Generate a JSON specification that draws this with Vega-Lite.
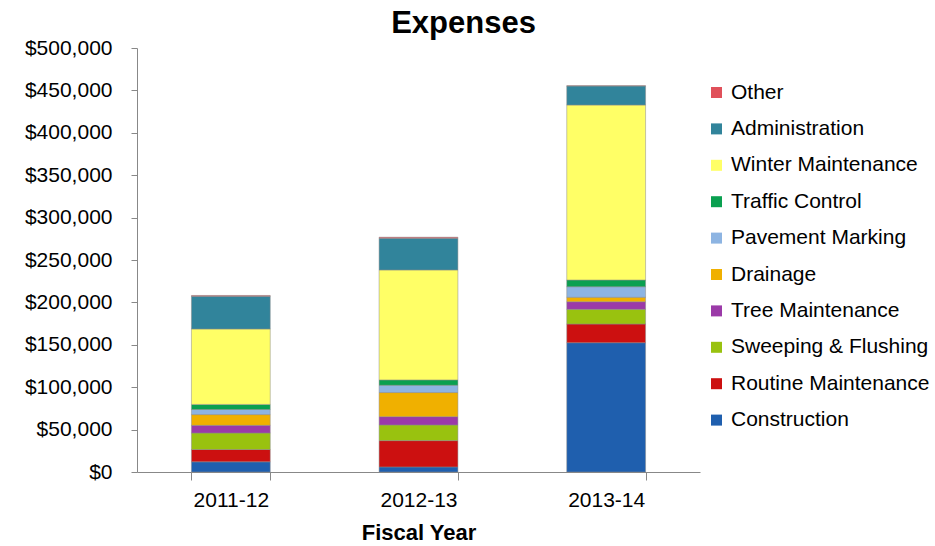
{
  "$schema": "https://vega.github.io/schema/vega-lite/v6.json",
  "autosize": {"type": "none"},
  "width": 563,
  "height": 424,
  "padding": {"left": 137, "top": 48, "right": 235, "bottom": 74},
  "background": "white",
  "config": {
    "font": "Liberation Sans",
    "view": {"stroke": null}
  },
  "title": {
    "text": "Expenses",
    "fontSize": 31,
    "fontWeight": "bold",
    "color": "black",
    "anchor": "middle",
    "dx": 45,
    "offset": 3,
    "dy": 6
  },
  "data": {
    "values": [
      {"year": "2011-12", "cat": "Construction", "rank": 1, "amount": 12000},
      {"year": "2011-12", "cat": "Routine Maintenance", "rank": 2, "amount": 14500},
      {"year": "2011-12", "cat": "Sweeping & Flushing", "rank": 3, "amount": 19500},
      {"year": "2011-12", "cat": "Tree Maintenance", "rank": 4, "amount": 9000},
      {"year": "2011-12", "cat": "Drainage", "rank": 5, "amount": 12700},
      {"year": "2011-12", "cat": "Pavement Marking", "rank": 6, "amount": 6000},
      {"year": "2011-12", "cat": "Traffic Control", "rank": 7, "amount": 6000},
      {"year": "2011-12", "cat": "Winter Maintenance", "rank": 8, "amount": 89000},
      {"year": "2011-12", "cat": "Administration", "rank": 9, "amount": 38500},
      {"year": "2011-12", "cat": "Other", "rank": 10, "amount": 1000},
      {"year": "2012-13", "cat": "Construction", "rank": 1, "amount": 6000},
      {"year": "2012-13", "cat": "Routine Maintenance", "rank": 2, "amount": 31000},
      {"year": "2012-13", "cat": "Sweeping & Flushing", "rank": 3, "amount": 18500},
      {"year": "2012-13", "cat": "Tree Maintenance", "rank": 4, "amount": 9800},
      {"year": "2012-13", "cat": "Drainage", "rank": 5, "amount": 28400},
      {"year": "2012-13", "cat": "Pavement Marking", "rank": 6, "amount": 8600},
      {"year": "2012-13", "cat": "Traffic Control", "rank": 7, "amount": 6300},
      {"year": "2012-13", "cat": "Winter Maintenance", "rank": 8, "amount": 129700},
      {"year": "2012-13", "cat": "Administration", "rank": 9, "amount": 37400},
      {"year": "2012-13", "cat": "Other", "rank": 10, "amount": 1200},
      {"year": "2013-14", "cat": "Construction", "rank": 1, "amount": 152500},
      {"year": "2013-14", "cat": "Routine Maintenance", "rank": 2, "amount": 22000},
      {"year": "2013-14", "cat": "Sweeping & Flushing", "rank": 3, "amount": 17300},
      {"year": "2013-14", "cat": "Tree Maintenance", "rank": 4, "amount": 9000},
      {"year": "2013-14", "cat": "Drainage", "rank": 5, "amount": 5200},
      {"year": "2013-14", "cat": "Pavement Marking", "rank": 6, "amount": 12500},
      {"year": "2013-14", "cat": "Traffic Control", "rank": 7, "amount": 7900},
      {"year": "2013-14", "cat": "Winter Maintenance", "rank": 8, "amount": 206400},
      {"year": "2013-14", "cat": "Administration", "rank": 9, "amount": 22300},
      {"year": "2013-14", "cat": "Other", "rank": 10, "amount": 500}
    ]
  },
  "mark": {"type": "bar", "stroke": "#8a8a8a", "strokeWidth": 0.5},
  "encoding": {
    "x": {
      "field": "year",
      "type": "nominal",
      "scale": {"paddingInner": 0.58, "paddingOuter": 0.29},
      "axis": {
        "title": "Fiscal Year",
        "titleFontSize": 22,
        "titleFontWeight": "bold",
        "titleColor": "black",
        "titlePadding": 12,
        "labelAngle": 0,
        "labelFontSize": 21,
        "labelColor": "black",
        "labelPadding": 9,
        "tickBand": "extent",
        "tickSize": 8,
        "tickColor": "#888",
        "domainColor": "#888"
      }
    },
    "y": {
      "field": "amount",
      "type": "quantitative",
      "aggregate": "sum",
      "stack": "zero",
      "scale": {"domain": [0, 500000], "nice": false},
      "axis": {
        "title": null,
        "values": [0, 50000, 100000, 150000, 200000, 250000, 300000, 350000, 400000, 450000, 500000],
        "format": "$,.0f",
        "grid": false,
        "labelFontSize": 21,
        "labelColor": "black",
        "labelPadding": 19,
        "tickSize": 6,
        "tickColor": "#888",
        "domainColor": "#888"
      }
    },
    "order": {"field": "rank", "type": "quantitative", "sort": "ascending"},
    "color": {
      "field": "cat",
      "type": "nominal",
      "scale": {
        "domain": ["Other", "Administration", "Winter Maintenance", "Traffic Control", "Pavement Marking", "Drainage", "Tree Maintenance", "Sweeping & Flushing", "Routine Maintenance", "Construction"],
        "range": ["#e0505a", "#31849b", "#ffff66", "#0aa050", "#8db4e2", "#f0b000", "#9b3aa8", "#99c20f", "#cc1010", "#1f5fae"]
      },
      "legend": {
        "title": null,
        "orient": "none",
        "legendX": 569,
        "legendY": 34,
        "symbolType": "square",
        "symbolSize": 121,
        "symbolStrokeWidth": 0,
        "labelFontSize": 21,
        "labelColor": "black",
        "labelOffset": 4,
        "labelLimit": 0,
        "rowPadding": 14.4
      }
    }
  }
}
